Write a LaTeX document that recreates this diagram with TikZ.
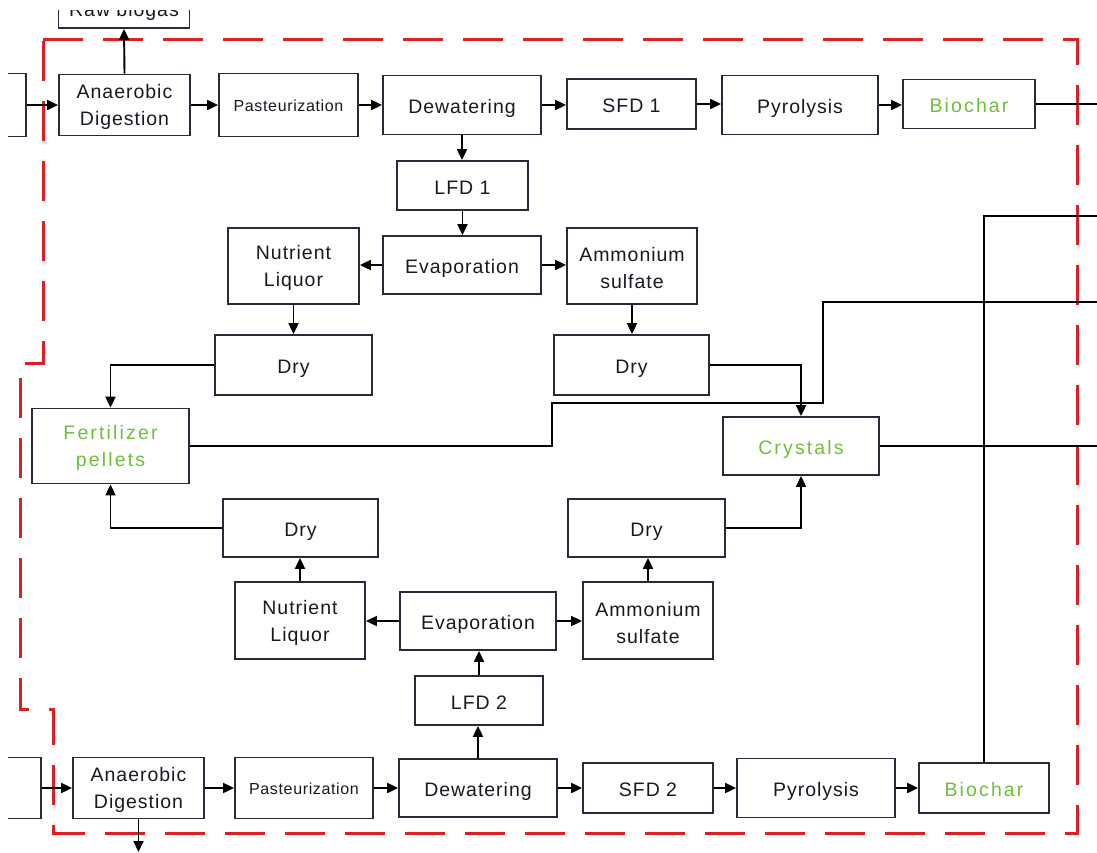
\documentclass[tikz,border=0pt]{standalone}
\usepackage{fontspec}
\setmainfont{Liberation Sans}
\usetikzlibrary{arrows.meta}
\definecolor{boxline}{RGB}{40,42,58}
\definecolor{dashred}{RGB}{220,32,36}
\definecolor{leaf}{RGB}{112,190,58}
\definecolor{ink}{RGB}{25,25,35}
\newcommand{\topstrut}{\rule{0pt}{19pt}}
\begin{document}
\begin{tikzpicture}[x=1pt,y=-1pt,
  box/.style={draw=boxline, line width=1.8pt, fill=white, inner sep=2pt, align=center,
              font=\fontsize{19.5}{27}\selectfont\addfontfeatures{LetterSpace=5}, text=ink},
  one/.style={text height=21pt, text depth=4pt},
  small/.style={font=\fontsize{16}{20}\selectfont\addfontfeatures{LetterSpace=4}, text height=16pt, text depth=4pt},
  green/.style={text=leaf, font=\fontsize{19.5}{27}\selectfont\addfontfeatures{LetterSpace=11}},
  ln/.style={line width=1.9pt, draw=black},
  arr/.style={ln, -{Triangle[length=11pt,width=10pt]}},
  boundary/.style={draw=dashred, line width=3pt, dash pattern=on 40pt off 20pt}]
\useasboundingbox (0,0) rectangle (1097,852);
\begin{scope}
\clip (8,10) rectangle (1097,852);

% red dashed boundary
\draw[boundary] (43,39) -- (1077,39) -- (1077,833) -- (53,833) -- (53,709) -- (20,709) -- (20,363) -- (43,363) -- cycle;

% top row
\node[box, minimum width=131, minimum height=48, text height=29, text depth=4] (raw) at (124,4) {Raw biogas};
\node[box, minimum width=86, minimum height=63] (lefttop) at (-17,105) {};
\node[box, minimum width=131, minimum height=61] (ad1) at (124.5,105) {\topstrut Anaerobic\\Digestion};
\node[box, small, minimum width=139, minimum height=63] (past1) at (288.5,105) {Pasteurization};
\node[box, one, minimum width=158, minimum height=59] (dew1) at (462,105) {Dewatering};
\node[box, one, minimum width=129, minimum height=50] (sfd1) at (631.5,104) {SFD 1};
\node[box, one, minimum width=156, minimum height=59] (pyr1) at (800,105) {Pyrolysis};
\node[box, green, one, minimum width=132, minimum height=49] (bio1) at (969,104) {Biochar};

% upper middle
\node[box, one, minimum width=131, minimum height=49] (lfd1) at (462.5,185.5) {LFD 1};
\node[box, one, minimum width=158, minimum height=58] (evap1) at (462,265) {Evaporation};
\node[box, minimum width=131, minimum height=76] (nl1) at (293.5,266) {\topstrut Nutrient\\Liquor};
\node[box, minimum width=130, minimum height=76] (as1) at (632,266) {\topstrut Ammonium\\sulfate};
\node[box, one, minimum width=157, minimum height=60] (dry1) at (293.5,365) {Dry};
\node[box, one, minimum width=155, minimum height=60] (dry2) at (631.5,365) {Dry};

% products
\node[box, green, minimum width=157, minimum height=75] (fert) at (110.5,446) {\topstrut Fertilizer\\pellets};
\node[box, green, one, minimum width=156, minimum height=58] (cryst) at (801,446) {Crystals};

% lower middle
\node[box, one, minimum width=155, minimum height=58] (dry3) at (300.5,528) {Dry};
\node[box, one, minimum width=157, minimum height=58] (dry4) at (646.5,528) {Dry};
\node[box, minimum width=130, minimum height=77] (nl2) at (300,620.5) {\topstrut Nutrient\\Liquor};
\node[box, one, minimum width=156, minimum height=58] (evap2) at (478,621) {Evaporation};
\node[box, minimum width=130, minimum height=77] (as2) at (648,620.5) {\topstrut Ammonium\\sulfate};
\node[box, one, minimum width=128, minimum height=49] (lfd2) at (479,700.5) {LFD 2};

% bottom row
\node[box, minimum width=101, minimum height=61] (leftbot) at (-9.5,788) {};
\node[box, minimum width=131, minimum height=61] (ad2) at (138.5,788) {\topstrut Anaerobic\\Digestion};
\node[box, small, minimum width=138, minimum height=61] (past2) at (304,788) {Pasteurization};
\node[box, one, minimum width=158, minimum height=58] (dew2) at (478,788) {Dewatering};
\node[box, one, minimum width=130, minimum height=50] (sfd2) at (648,788) {SFD 2};
\node[box, one, minimum width=158, minimum height=59] (pyr2) at (816,788) {Pyrolysis};
\node[box, green, one, minimum width=130, minimum height=50] (bio2) at (984,788) {Biochar};

% free ends
\coordinate (outA) at (1097,104);
\coordinate (outB) at (1097,216);
\coordinate (outC) at (1097,302);
\coordinate (outD) at (1097,446);
\coordinate (outE) at (139,852);

% top row connectors
\draw[arr] (lefttop.east) -- (ad1.west);
\draw[arr] (ad1.north) -- (raw.south);
\draw[arr] (ad1.east) -- (past1.west);
\draw[arr] (past1.east) -- (dew1.west);
\draw[arr] (dew1.east) -- (dew1.east -| sfd1.west);
\draw[arr] (sfd1.east) -- (sfd1.east -| pyr1.west);
\draw[arr] (pyr1.east) -- (pyr1.east -| bio1.west);
\draw[ln] (bio1.east) -- (outA);

\draw[arr] (dew1.south) -- (dew1.south |- lfd1.north);
\draw[arr] (lfd1.south) -- (lfd1.south |- evap1.north);
\draw[arr] (evap1.west) -- (evap1.west -| nl1.east);
\draw[arr] (evap1.east) -- (evap1.east -| as1.west);
\draw[arr] (nl1.south) -- (dry1.north -| nl1.south);
\draw[arr] (as1.south) -- (dry2.north -| as1.south);
\draw[arr] (dry1.west) -| (fert.north);
\draw[arr] (dry2.east) -| (cryst.north);

\draw[ln] (fert.east) -- (552,446) -- (552,403) -- (823,403) -- (823,302) -- (outC);
\draw[ln] (cryst.east) -- (outD);
\draw[ln] (outB) -- (984,216) -- (bio2.north);

% lower connectors
\draw[arr] (dry3.west) -| (fert.south);
\draw[arr] (dry4.east) -| (cryst.south);
\draw[arr] (nl2.north) -- (dry3.south -| nl2.north);
\draw[arr] (as2.north) -- (dry4.south -| as2.north);
\draw[arr] (evap2.west) -- (evap2.west -| nl2.east);
\draw[arr] (evap2.east) -- (evap2.east -| as2.west);
\draw[arr] (lfd2.north) -- (evap2.south -| lfd2.north);
\draw[arr] (dew2.north) -- (lfd2.south -| dew2.north);

% bottom row connectors
\draw[arr] (leftbot.east) -- (ad2.west);
\draw[arr] (ad2.east) -- (ad2.east -| past2.west);
\draw[arr] (past2.east) -- (past2.east -| dew2.west);
\draw[arr] (dew2.east) -- (dew2.east -| sfd2.west);
\draw[arr] (sfd2.east) -- (sfd2.east -| pyr2.west);
\draw[arr] (pyr2.east) -- (pyr2.east -| bio2.west);
\draw[arr] (ad2.south) -- (ad2.south |- outE);
\end{scope}
\end{tikzpicture}
\end{document}
